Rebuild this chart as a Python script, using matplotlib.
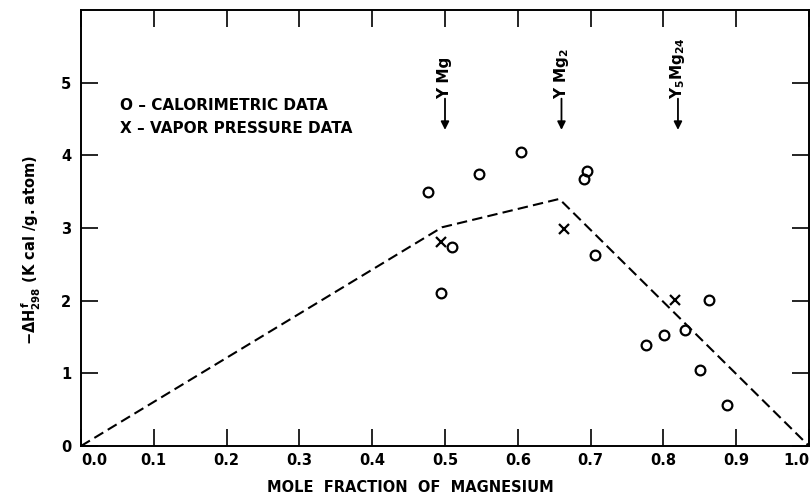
import matplotlib
matplotlib.use("Agg")
import matplotlib.pyplot as plt

# ---- data ----
calor_x = [0.476, 0.547, 0.605, 0.691, 0.695, 0.510, 0.495, 0.706,
           0.776, 0.801, 0.829, 0.863, 0.850, 0.888]
calor_y = [3.49, 3.74, 4.04, 3.67, 3.78, 2.74, 2.11, 2.63,
           1.39, 1.53, 1.60, 2.01, 1.05, 0.56]
vapor_x = [0.495, 0.663, 0.816]
vapor_y = [2.81, 2.99, 2.01]
line_x = [0.0, 0.496, 0.657, 1.0]
line_y = [0.0, 3.01, 3.40, 0.0]
compound_x = [0.50, 0.66, 0.82]
compound_labels = [r"Y Mg", r"Y Mg$_2$", r"Y$_5$Mg$_{24}$"]
xticks = [0.0, 0.1, 0.2, 0.3, 0.4, 0.5, 0.6, 0.7, 0.8, 0.9, 1.0]
xtick_labels = ["0.0", "0.1", "0.2", "0.3", "0.4", "0.5", "0.6", "0.7", "0.8", "0.9", "1.0"]
yticks = [0, 1, 2, 3, 4, 5]
ytick_labels = ["0", "1", "2", "3", "4", "5"]

plt.rcParams["font.family"] = ["DejaVu Sans"]
plt.rcParams["mathtext.default"] = "regular"

fig = plt.figure(figsize=(8.12, 4.96), dpi=100)
ax = fig.add_axes([81 / 812, 1 - 446 / 496, (809 - 81) / 812, (446 - 10) / 496])

ax.plot(line_x, line_y, color="black", lw=1.5, dashes=(5, 2.5))
ax.plot(calor_x, calor_y, linestyle="none", marker="o", markersize=7,
        markerfacecolor="none", markeredgecolor="black", markeredgewidth=1.6)
ax.plot(vapor_x, vapor_y, linestyle="none", marker="x", markersize=7,
        color="black", markeredgewidth=1.6)

for cx, lab in zip(compound_x, compound_labels):
    ax.annotate("", xy=(cx, 4.35), xytext=(cx, 4.78),
                arrowprops=dict(arrowstyle="-|>", color="black", lw=1.3,
                                mutation_scale=12, shrinkA=0, shrinkB=0))
    ax.text(cx, 4.78, lab, rotation=90, ha="center", va="bottom",
            fontsize=11, fontweight="bold")

ax.text(0.053, 4.69, "O – CALORIMETRIC DATA", fontsize=11, fontweight="bold",
        ha="left", va="center")
ax.text(0.053, 4.37, "X – VAPOR PRESSURE DATA", fontsize=11, fontweight="bold",
        ha="left", va="center")

ax.set_xlim(0, 1.0)
ax.set_ylim(0, 6)
ax.set_xticks(xticks)
ax.set_xticklabels(xtick_labels, fontsize=10.5, fontweight="bold")
xl = ax.get_xticklabels()
xl[0].set_horizontalalignment("left")
xl[-1].set_horizontalalignment("right")
ax.set_yticks(yticks)
ax.set_yticklabels(ytick_labels, fontsize=10.5, fontweight="bold")
ax.tick_params(axis="both", direction="in", length=12.5, width=1.2,
               top=True, right=True, labeltop=False, labelright=False)
ax.tick_params(axis="x", pad=5)
ax.tick_params(axis="y", pad=7)
for s in ax.spines.values():
    s.set_linewidth(1.4)

fig.text(31 / 812, 1 - 250 / 496, r"$-\Delta H^{\,f}_{298}$ (K cal /g. atom)",
         rotation=90, ha="center", va="center", fontsize=10.5, fontweight="bold")
fig.text(410 / 812, 1 - 488 / 496, "MOLE  FRACTION  OF  MAGNESIUM",
         ha="center", va="center", fontsize=10.5, fontweight="bold")

fig.savefig("out.png", dpi=100)
